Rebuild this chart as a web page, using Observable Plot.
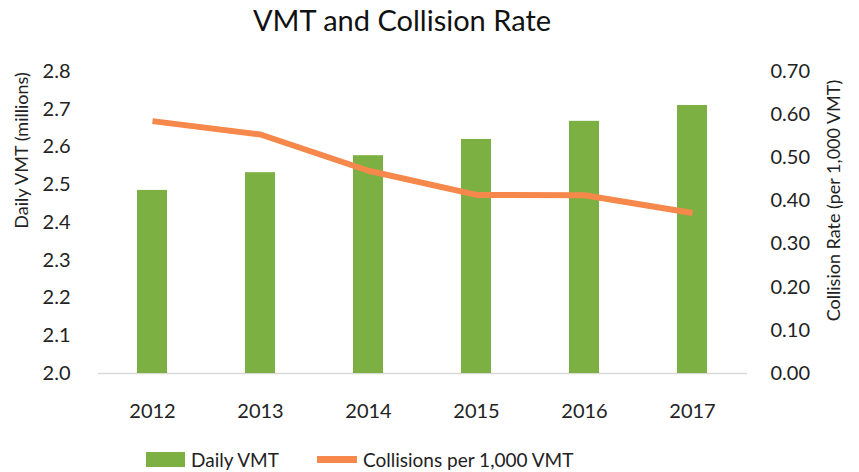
<!DOCTYPE html>
<html><head><meta charset="utf-8">
<script src="https://cdn.jsdelivr.net/npm/d3@7"></script>
<script src="https://cdn.jsdelivr.net/npm/@observablehq/plot@0.6"></script>
<style>
body{margin:0;background:#fff;font-family:Lato,"Open Sans",sans-serif;}
#wrap{position:relative;width:859px;height:472px;overflow:hidden;}
#title{position:absolute;left:0;top:2px;width:804px;text-align:center;font-size:29px;color:#111;}
#chart{position:absolute;left:0;top:44px;}
.leg{position:absolute;top:448px;display:flex;align-items:center;font-size:19px;color:#222;height:22px;}
.sw{display:inline-block;margin-right:6px;}
</style></head>
<body>
<div id="wrap">
  <div id="title">VMT and Collision Rate</div>
  <div id="chart"></div>
  <div class="leg" style="left:146px"><span class="sw" style="width:39px;height:15px;background:#7cb042"></span>Daily VMT</div>
  <div class="leg" style="left:317px"><span class="sw" style="width:40px;height:7px;background:#f5884a"></span>Collisions per 1,000 VMT</div>
</div>
<script>
const years = ["2012", "2013", "2014", "2015", "2016", "2017"];
const dailyVMT = [2.485, 2.532, 2.577, 2.620, 2.668, 2.710];
const collisionRate = [0.585, 0.554, 0.470, 0.414, 0.413, 0.372];
const vmtTicks = [2.0, 2.1, 2.2, 2.3, 2.4, 2.5, 2.6, 2.7, 2.8];
const rateTicks = [0.0, 0.1, 0.2, 0.3, 0.4, 0.5, 0.6, 0.7];
const vmtDomain = [2.0, 2.8];
const rateDomain = [0.0, 0.7];
const leftTitle = "Daily VMT (millions)";
const rightTitle = "Collision Rate (per 1,000 VMT)";

const GREEN = "#7cb042", ORANGE = "#f5884a", TEXT = "#222";
const toY = r => vmtDomain[0] + (r - rateDomain[0]) / (rateDomain[1] - rateDomain[0]) * (vmtDomain[1] - vmtDomain[0]);
const fromY = y => rateDomain[0] + (y - vmtDomain[0]) / (vmtDomain[1] - vmtDomain[0]) * (rateDomain[1] - rateDomain[0]);
const data = years.map((year, i) => ({year, vmt: dailyVMT[i], rate: collisionRate[i], rateY: toY(collisionRate[i])}));

const chart = Plot.plot({
  width: 859,
  height: 390,
  marginLeft: 98,
  marginRight: 112,
  marginTop: 27,
  marginBottom: 61,
  style: {fontFamily: "Lato, 'Open Sans', sans-serif", color: TEXT, background: "#fff", overflow: "visible"},
  x: {domain: years, paddingInner: 0.72, paddingOuter: 0.36},
  y: {domain: vmtDomain},
  marks: [
    Plot.ruleY([vmtDomain[0]], {stroke: "#d9d9d9", strokeWidth: 1.5}),
    Plot.barY(data, {x: "year", y1: vmtDomain[0], y2: "vmt", fill: GREEN}),
    Plot.line(data, {x: "year", y: "rateY", stroke: ORANGE, strokeWidth: 6, strokeLinejoin: "round", strokeLinecap: "butt"}),
    Plot.axisX({tickSize: 0, tickPadding: 30, fontSize: 20, label: null, fill: TEXT}),
    Plot.axisY(vmtTicks, {anchor: "left", tickSize: 0, tickPadding: 28, fontSize: 20, label: null, tickFormat: d3.format(".1f"), fill: TEXT}),
    Plot.axisY(rateTicks.map(toY), {anchor: "right", tickSize: 0, tickPadding: 23, fontSize: 20, label: null, tickFormat: d => d3.format(".2f")(fromY(d)), fill: TEXT}),
    Plot.text([leftTitle], {text: d => d, frameAnchor: "left", textAnchor: "middle", rotate: -90, dx: -76, dy: -72, fontSize: 18, fill: TEXT}),
    Plot.text([rightTitle], {text: d => d, frameAnchor: "right", textAnchor: "middle", rotate: -90, dx: 87, dy: -22, fontSize: 18, fill: TEXT})
  ]
});
document.getElementById("chart").appendChild(chart);
</script>
</body></html>
